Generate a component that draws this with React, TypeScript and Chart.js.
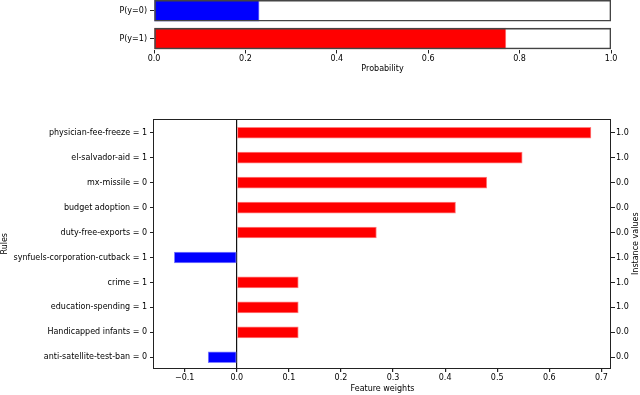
import React, { useEffect, useRef } from "react";
import { Chart, registerables } from "chart.js";

Chart.register(...registerables);

const probLabels = ["P(y=0)", "P(y=1)"];
const probValues = [0.23, 0.77];
const probFull = [1, 1];

const ruleLabels = [
  "physician-fee-freeze = 1",
  "el-salvador-aid = 1",
  "mx-missile = 0",
  "budget adoption = 0",
  "duty-free-exports = 0",
  "synfuels-corporation-cutback = 1",
  "crime = 1",
  "education-spending = 1",
  "Handicapped infants = 0",
  "anti-satellite-test-ban = 0",
];
const featureWeights = [0.68, 0.548, 0.48, 0.42, 0.268, -0.12, 0.118, 0.118, 0.118, -0.055];
const instanceValues = [1, 1, 0, 0, 0, 1, 1, 1, 0, 0];

const FONT = "DejaVu Sans";
const RED = "#ff0000";
const BLUE = "#0000ff";
const RED_EDGE = "#ff8080";
const BLUE_EDGE = "#8080ff";
const AXIS = "#222222";

function fmt(v: number) {
  const n = Number(v);
  return (n < 0 ? "\u2212" : "") + Math.abs(n).toFixed(1);
}

const framePlugin = {
  id: "frameAndRightTitle",
  afterDraw(chart: any) {
    const { ctx, chartArea: a } = chart;
    ctx.save();
    ctx.strokeStyle = AXIS;
    ctx.lineWidth = 1;
    const l = Math.round(a.left) - 0.5;
    const r = Math.round(a.right) - 0.5;
    const t = Math.round(a.top) - 0.5;
    const b = Math.round(a.bottom) + 0.5;
    ctx.strokeRect(l, t, r - l, b - t);
    ctx.translate(a.right + 25, (a.top + a.bottom) / 2);
    ctx.rotate(-Math.PI / 2);
    ctx.fillStyle = "#000";
    ctx.font = `8px "${FONT}"`;
    ctx.textAlign = "center";
    ctx.textBaseline = "middle";
    ctx.fillText("Instance values", 0, 0);
    ctx.restore();
  },
};

export default function App() {
  const topRef = useRef<HTMLCanvasElement | null>(null);
  const botRef = useRef<HTMLCanvasElement | null>(null);

  useEffect(() => {
    Chart.defaults.font.family = FONT;
    Chart.defaults.font.size = 8;
    Chart.defaults.color = "#000";

    const top = new Chart(topRef.current as HTMLCanvasElement, {
      type: "bar",
      data: {
        datasets: [
          {
            data: probValues.map((v, i) => ({ x: v, y: i })),
            backgroundColor: [BLUE, RED],
            borderColor: [BLUE_EDGE, RED_EDGE],
            borderWidth: 1,
            borderSkipped: false,
            barThickness: 21,
            grouped: false,
            order: 2,
          } as any,
          {
            data: probFull.map((v, i) => ({ x: v, y: i })),
            backgroundColor: "rgba(0,0,0,0)",
            borderColor: "#444444",
            borderWidth: 1,
            borderSkipped: false,
            barThickness: 21,
            grouped: false,
            order: 1,
          } as any,
        ],
      },
      options: {
        indexAxis: "y",
        responsive: false,
        animation: false,
        layout: { padding: { left: 0, right: 29, top: 0, bottom: 0 } },
        plugins: { legend: { display: false }, tooltip: { enabled: false } },
        scales: {
          x: {
            type: "linear",
            min: 0,
            max: 1,
            ticks: { stepSize: 0.2, padding: 1, maxRotation: 0, callback: (v: any) => fmt(v) },
            grid: { drawOnChartArea: false, tickLength: 4, color: AXIS },
            border: { display: false },
            title: { display: true, text: "Probability", padding: { top: 0, bottom: 1 } },
            afterFit: (s: any) => {
              s.height = 25.5;
            },
          },
          y: {
            type: "linear",
            reverse: true,
            offset: false,
            min: -0.385,
            max: 1.39,
            ticks: {
              stepSize: 1,
              includeBounds: false,
              padding: 3,
              callback: (v: any) => probLabels[Number(v)] ?? "",
            },
            grid: { drawOnChartArea: false, offset: false, tickLength: 4, color: AXIS },
            border: { display: false },
            afterFit: (s: any) => {
              s.width = 154;
              s.paddingTop = 0;
              s.paddingBottom = 0;
            },
          },
        },
      } as any,
    });

    const bottom = new Chart(botRef.current as HTMLCanvasElement, {
      type: "bar",
      data: {
        datasets: [
          {
            data: featureWeights.map((v, i) => ({ x: v, y: i })),
            backgroundColor: featureWeights.map((v) => (v >= 0 ? RED : BLUE)),
            borderColor: featureWeights.map((v) => (v >= 0 ? RED_EDGE : BLUE_EDGE)),
            borderWidth: 1,
            borderSkipped: false,
            barThickness: 11,
            yAxisID: "y",
          } as any,
        ],
      },
      options: {
        indexAxis: "y",
        responsive: false,
        animation: false,
        layout: { padding: { left: 0, right: 0, top: 44.5, bottom: 0 } },
        plugins: { legend: { display: false }, tooltip: { enabled: false } },
        scales: {
          x: {
            type: "linear",
            min: -0.159,
            max: 0.7185,
            ticks: { stepSize: 0.1, includeBounds: false, padding: 1, maxRotation: 0, callback: (v: any) => fmt(v) },
            grid: {
              drawOnChartArea: true,
              tickLength: 4,
              tickColor: AXIS,
              lineWidth: 1.2,
              color: (c: any) => (c.tick && Math.abs(c.tick.value) < 1e-9 ? "#111" : "rgba(0,0,0,0)"),
            },
            border: { display: false },
            title: { display: true, text: "Feature weights", padding: { top: 0, bottom: 1 } },
            afterFit: (s: any) => {
              s.height = 27;
            },
          },
          y: {
            type: "linear",
            position: "left",
            reverse: true,
            offset: false,
            min: -0.53,
            max: 9.43,
            ticks: {
              stepSize: 1,
              includeBounds: false,
              padding: 3,
              callback: (v: any) => ruleLabels[Number(v)] ?? "",
            },
            grid: { drawOnChartArea: false, offset: false, tickLength: 4, color: AXIS },
            border: { display: false },
            title: { display: true, text: "Rules", padding: { top: 0, bottom: 0 } },
            afterFit: (s: any) => {
              s.width = 154;
            },
          },
          y2: {
            type: "linear",
            position: "right",
            reverse: true,
            offset: false,
            min: -0.53,
            max: 9.43,
            ticks: {
              stepSize: 1,
              includeBounds: false,
              padding: 1,
              callback: (v: any) => {
                const iv = instanceValues[Number(v)];
                return iv === undefined ? "" : iv.toFixed(1);
              },
            },
            grid: { drawOnChartArea: false, offset: false, tickLength: 4, color: AXIS },
            border: { display: false },
            afterFit: (s: any) => {
              s.width = 29;
            },
          },
        },
      } as any,
      plugins: [framePlugin as any],
    });

    return () => {
      top.destroy();
      bottom.destroy();
    };
  }, []);

  return (
    <div style={{ position: "fixed", left: 0, top: 0, width: 640, height: 395, background: "#fff" }}>
      <canvas ref={topRef} width={640} height={75} style={{ position: "absolute", left: 0, top: 0, display: "block" }} />
      <canvas ref={botRef} width={640} height={320} style={{ position: "absolute", left: 0, top: 75, display: "block" }} />
    </div>
  );
}
